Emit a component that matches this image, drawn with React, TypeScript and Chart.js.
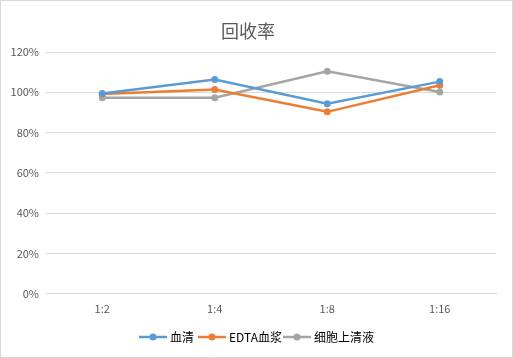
import React, { useEffect, useRef } from "react";
import { Chart, registerables } from "chart.js";

Chart.register(...registerables);

const categories = ["1:2", "1:4", "1:8", "1:16"];
const serumValues = [99.4, 106.4, 94.3, 105.3];
const edtaValues = [99.2, 101.4, 90.3, 103.5];
const supernatantValues = [97.3, 97.3, 110.4, 100.1];
const seriesNames = ["血清", "EDTA血浆", "细胞上清液"];
const seriesColors = ["#5B9BD5", "#ED7D31", "#A5A5A5"];
const titleText = "回收率";

const FONT = "'Noto Sans CJK SC', 'Liberation Sans', sans-serif";

const titlePlugin = {
  id: "customTitle",
  afterDraw(chart: any) {
    const ctx = chart.ctx;
    ctx.save();
    ctx.font = `18px ${FONT}`;
    ctx.fillStyle = "#595959";
    ctx.textAlign = "center";
    ctx.textBaseline = "middle";
    ctx.fillText(titleText, 247, 30);
    ctx.restore();
  },
};

const legendPlugin = {
  id: "customLegend",
  afterDraw(chart: any) {
    const ctx = chart.ctx;
    ctx.save();
    ctx.font = `12px ${FONT}`;
    ctx.textBaseline = "middle";
    const y = 336;
    const starts = [138, 197, 282];
    chart.data.datasets.forEach((ds: any, i: number) => {
      const x0 = starts[i];
      ctx.strokeStyle = ds.borderColor;
      ctx.lineWidth = 2.5;
      ctx.beginPath();
      ctx.moveTo(x0, y);
      ctx.lineTo(x0 + 28, y);
      ctx.stroke();
      ctx.fillStyle = ds.borderColor;
      ctx.beginPath();
      ctx.arc(x0 + 14, y, 3.5, 0, Math.PI * 2);
      ctx.fill();
      ctx.fillStyle = "#000000";
      ctx.textAlign = "left";
      ctx.fillText(ds.label, x0 + 31, y);
    });
    ctx.restore();
  },
};

export default function App() {
  const ref = useRef<HTMLCanvasElement | null>(null);
  useEffect(() => {
    document.body.style.margin = "0";
    const datasets = [serumValues, edtaValues, supernatantValues].map((d, i) => ({
      label: seriesNames[i],
      data: d,
      borderColor: seriesColors[i],
      backgroundColor: seriesColors[i],
      borderWidth: 2.5,
      pointRadius: 3.5,
      pointBorderWidth: 0,
      pointBackgroundColor: seriesColors[i],
      tension: 0,
    }));
    const chart = new Chart(ref.current!, {
      type: "line",
      data: { labels: categories, datasets },
      options: {
        animation: false,
        responsive: false,
        layout: { padding: { top: 51, left: 0, right: 16, bottom: 34 } },
        plugins: {
          legend: { display: false },
          title: { display: false },
          tooltip: { enabled: false },
        },
        scales: {
          x: {
            offset: true,
            grid: { display: false, drawTicks: false, offset: true },
            border: { color: "#D9D9D9", width: 1 },
            ticks: { color: "#595959", font: { size: 11, family: FONT }, padding: 8 },
          },
          y: {
            min: 0,
            max: 120,
            afterFit(scale: any) {
              scale.width = 45;
            },
            grid: { color: "#D9D9D9", drawTicks: false },
            border: { display: false },
            ticks: {
              stepSize: 20,
              color: "#595959",
              font: { size: 11, family: FONT },
              padding: 7,
              callback: (v: any) => v + "%",
            },
          },
        },
      },
      plugins: [titlePlugin, legendPlugin],
    });
    return () => chart.destroy();
  }, []);
  return (
    <div
      style={{
        position: "fixed",
        left: 0,
        top: 0,
        width: 513,
        height: 358,
        boxSizing: "border-box",
        border: "1px solid #D9D9D9",
        background: "#fff",
      }}
    >
      <canvas ref={ref} width={511} height={356} style={{ display: "block" }} />
    </div>
  );
}
